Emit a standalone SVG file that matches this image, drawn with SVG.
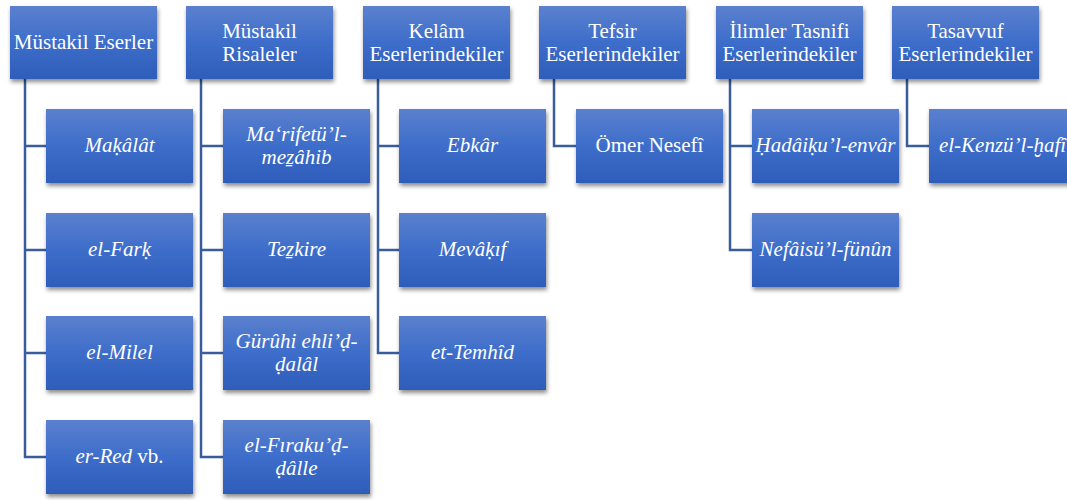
<svg xmlns="http://www.w3.org/2000/svg" width="1067" height="500" viewBox="0 0 1067 500">
<defs>
<linearGradient id="g" x1="0" y1="0" x2="0" y2="1">
<stop offset="0" stop-color="#5b80ce"/>
<stop offset="0.5" stop-color="#3d6dca"/>
<stop offset="1" stop-color="#2e5db9"/>
</linearGradient>
<filter id="sh" x="-10%" y="-10%" width="125%" height="135%">
<feDropShadow dx="1" dy="3" stdDeviation="2" flood-color="#000" flood-opacity="0.45"/>
</filter>
<style>
.b{fill:url(#g);filter:url(#sh)}
.t{font-family:"Liberation Serif","DejaVu Serif",serif;font-size:21px;fill:#fff;text-anchor:middle}
.i{font-style:italic}
.c{fill:none;stroke:#395c9c;stroke-width:2.5}
</style>
</defs>
<rect width="1067" height="500" fill="#fff"/>
<g id="connectors">
<path class="c" d="M25,79V146H46M25,79V250H46M25,79V353H46M25,79V457H46"/>
<path class="c" d="M201,79V146H223M201,79V250H223M201,79V353H223M201,79V457H223"/>
<path class="c" d="M378,79V146H399M378,79V250H399M378,79V353H399"/>
<path class="c" d="M554,79V146H576"/>
<path class="c" d="M730,79V146H752M730,79V250H752"/>
<path class="c" d="M907,79V146H929"/>
</g>
<g id="h1"><rect class="b" x="10" y="6" width="147" height="73"/><text class="t" x="83.5" y="49">Müstakil Eserler</text></g>
<g id="h2"><rect class="b" x="186" y="6" width="147" height="73"/><text class="t" x="259.5" y="37.5">Müstakil</text><text class="t" x="259.5" y="60.5">Risaleler</text></g>
<g id="h3"><rect class="b" x="363" y="6" width="147" height="73"/><text class="t" x="436.5" y="37.5">Kelâm</text><text class="t" x="436.5" y="60.5">Eserlerindekiler</text></g>
<g id="h4"><rect class="b" x="539" y="6" width="147" height="73"/><text class="t" x="612.5" y="37.5">Tefsir</text><text class="t" x="612.5" y="60.5">Eserlerindekiler</text></g>
<g id="h5"><rect class="b" x="716" y="6" width="147" height="73"/><text class="t" x="789.5" y="37.5">İlimler Tasnifi</text><text class="t" x="789.5" y="60.5">Eserlerindekiler</text></g>
<g id="h6"><rect class="b" x="892" y="6" width="147" height="73"/><text class="t" x="965.5" y="37.5">Tasavvuf</text><text class="t" x="965.5" y="60.5">Eserlerindekiler</text></g>

<g id="c11"><rect class="b" x="46" y="109" width="147" height="74"/><text class="t i" x="119.5" y="152">Maḳâlât</text></g>
<g id="c12"><rect class="b" x="46" y="213" width="147" height="74"/><text class="t i" x="119.5" y="256">el-Farḳ</text></g>
<g id="c13"><rect class="b" x="46" y="316" width="147" height="74"/><text class="t i" x="119.5" y="359">el-Milel</text></g>
<g id="c14"><rect class="b" x="46" y="420" width="147" height="74"/><text class="t" x="119.5" y="463"><tspan class="i">er-Red</tspan> vb.</text></g>

<g id="c21"><rect class="b" x="223" y="109" width="147" height="74"/><text class="t i" x="296.5" y="140.5">Ma‘rifetü’l-</text><text class="t i" x="296.5" y="163.5">meẕâhib</text></g>
<g id="c22"><rect class="b" x="223" y="213" width="147" height="74"/><text class="t i" x="296.5" y="256">Teẕkire</text></g>
<g id="c23"><rect class="b" x="223" y="316" width="147" height="74"/><text class="t i" x="296.5" y="347.5">Gürûhi ehli’ḍ-</text><text class="t i" x="296.5" y="370.5">ḍalâl</text></g>
<g id="c24"><rect class="b" x="223" y="420" width="147" height="74"/><text class="t i" x="296.5" y="451.5">el-Fıraku’ḍ-</text><text class="t i" x="296.5" y="474.5">ḍâlle</text></g>

<g id="c31"><rect class="b" x="399" y="109" width="147" height="74"/><text class="t i" x="472.5" y="152">Ebkâr</text></g>
<g id="c32"><rect class="b" x="399" y="213" width="147" height="74"/><text class="t i" x="472.5" y="256">Mevâḳıf</text></g>
<g id="c33"><rect class="b" x="399" y="316" width="147" height="74"/><text class="t i" x="472.5" y="359">et-Temhîd</text></g>

<g id="c41"><rect class="b" x="576" y="109" width="147" height="74"/><text class="t" x="649.5" y="152">Ömer Nesefî</text></g>

<g id="c51"><rect class="b" x="752" y="109" width="147" height="74"/><text class="t i" x="825.5" y="152">Ḥadâiḳu’l-envâr</text></g>
<g id="c52"><rect class="b" x="752" y="213" width="147" height="74"/><text class="t i" x="825.5" y="256">Nefâisü’l-fünûn</text></g>

<g id="c61"><rect class="b" x="929" y="109" width="147" height="74"/><text class="t i" x="1002.5" y="152">el-Kenzü’l-ḫafî</text></g>
</svg>
